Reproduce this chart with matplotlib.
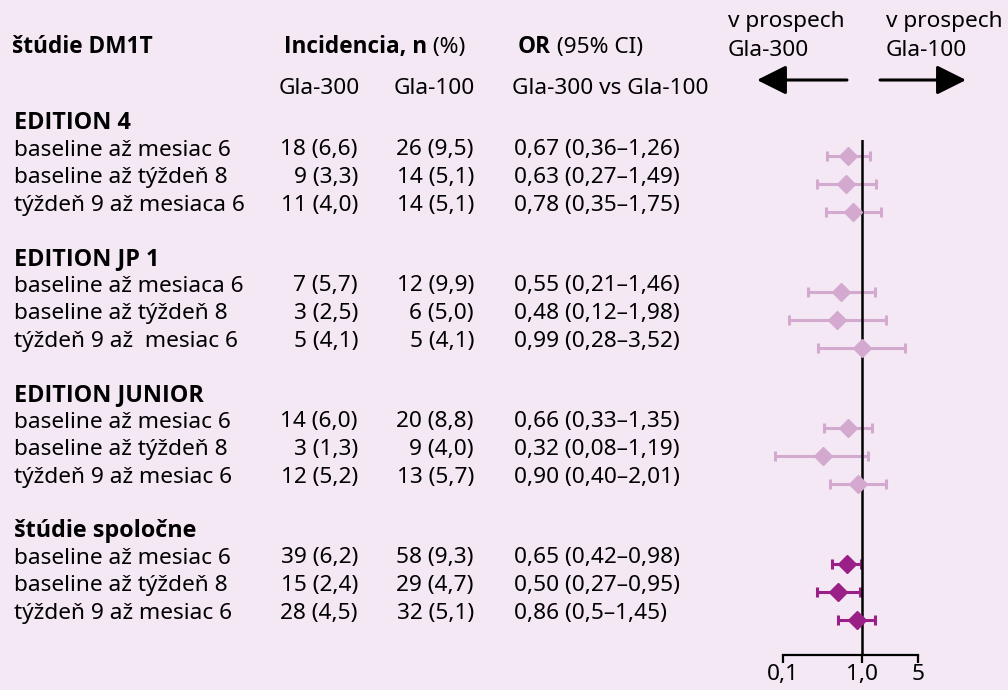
import matplotlib
matplotlib.use("Agg")
import matplotlib.pyplot as plt

plt.rcParams['font.family'] = ['Noto Sans', 'DejaVu Sans']
BOLD = ['Open Sans', 'DejaVu Sans']

# dáta
groups = ["EDITION 4", "EDITION JP 1", "EDITION JUNIOR", "štúdie spoločne"]
row_labels = [
    ["baseline až mesiac 6", "baseline až týždeň 8", "týždeň 9 až mesiaca 6"],
    ["baseline až mesiaca 6", "baseline až týždeň 8", "týždeň 9 až  mesiac 6"],
    ["baseline až mesiac 6", "baseline až týždeň 8", "týždeň 9 až mesiac 6"],
    ["baseline až mesiac 6", "baseline až týždeň 8", "týždeň 9 až mesiac 6"],
]
gla300 = [["18 (6,6)", "9 (3,3)", "11 (4,0)"],
          ["7 (5,7)", "3 (2,5)", "5 (4,1)"],
          ["14 (6,0)", "3 (1,3)", "12 (5,2)"],
          ["39 (6,2)", "15 (2,4)", "28 (4,5)"]]
gla100 = [["26 (9,5)", "14 (5,1)", "14 (5,1)"],
          ["12 (9,9)", "6 (5,0)", "5 (4,1)"],
          ["20 (8,8)", "9 (4,0)", "13 (5,7)"],
          ["58 (9,3)", "29 (4,7)", "32 (5,1)"]]
or_val = [[0.67, 0.63, 0.78], [0.55, 0.48, 0.99], [0.66, 0.32, 0.90], [0.65, 0.50, 0.86]]
ci_low = [[0.36, 0.27, 0.35], [0.21, 0.12, 0.28], [0.33, 0.08, 0.40], [0.42, 0.27, 0.5]]
ci_high = [[1.26, 1.49, 1.75], [1.46, 1.98, 3.52], [1.35, 1.19, 2.01], [0.98, 0.95, 1.45]]
or_text = [["0,67 (0,36–1,26)", "0,63 (0,27–1,49)", "0,78 (0,35–1,75)"],
           ["0,55 (0,21–1,46)", "0,48 (0,12–1,98)", "0,99 (0,28–3,52)"],
           ["0,66 (0,33–1,35)", "0,32 (0,08–1,19)", "0,90 (0,40–2,01)"],
           ["0,65 (0,42–0,98)", "0,50 (0,27–0,95)", "0,86 (0,5–1,45)"]]
xticks = [0.1, 1.0, 5]
xtick_labels = ["0,1", "1,0", "5"]

bg = "#f3e8f4"
light = "#d3a9cf"
dark = "#9a1f87"

W, H = 1008, 690
fig = plt.figure(figsize=(W / 100, H / 100), dpi=100, facecolor=bg)

# textová vrstva v pixelových súradniciach
ax = fig.add_axes([0, 0, 1, 1])
ax.set_xlim(0, W)
ax.set_ylim(H, 0)
ax.axis("off")

fs = 16.3
renderer = fig.canvas.get_renderer()


def bold(x, y, s, size=fs):
    return ax.text(x, y, s, fontsize=size, fontweight="bold", family=BOLD,
                   va="center", ha="left")


def mixed(x, y, b, rest):
    t = bold(x, y, b)
    bb = t.get_window_extent(renderer=renderer)
    x2 = ax.transData.inverted().transform((bb.x1, 0))[0]
    ax.text(x2, y, rest, fontsize=fs, va="center", ha="left")


bold(12, 47, "štúdie DM1T")
mixed(284, 47, "Incidencia, n", " (%)")
mixed(518, 47, "OR", " (95% CI)")
ax.text(279, 89, "Gla-300", fontsize=fs, va="center")
ax.text(394, 89, "Gla-100", fontsize=fs, va="center")
ax.text(512, 89, "Gla-300 vs Gla-100", fontsize=fs, va="center")

ax.text(728, 22, "v prospech", fontsize=fs, va="center")
ax.text(728, 51, "Gla-300", fontsize=fs, va="center")
ax.text(886, 22, "v prospech", fontsize=fs, va="center")
ax.text(886, 51, "Gla-100", fontsize=fs, va="center")
arrow = dict(arrowstyle="-|>,head_length=0.9,head_width=0.45", color="black",
             lw=2.2, mutation_scale=20, shrinkA=0, shrinkB=0)
ax.annotate("", xy=(757, 80), xytext=(847, 80), arrowprops=arrow)
ax.annotate("", xy=(966, 80), xytext=(880, 80), arrowprops=arrow)

head_y0 = 123
group_step = 136
row_step = 27.8
row_y = []
for g, name in enumerate(groups):
    hy = head_y0 + g * group_step
    bold(14, hy, name, size=fs + 0.5)
    ys = []
    for r in range(3):
        y = hy + 27 + r * row_step
        ys.append(y)
        ax.text(14, y, row_labels[g][r], fontsize=fs, va="center")
        ax.text(358, y, gla300[g][r], fontsize=fs, va="center", ha="right")
        ax.text(474, y, gla100[g][r], fontsize=fs, va="center", ha="right")
        ax.text(514, y, or_text[g][r], fontsize=fs, va="center", ha="left")
    row_y.append(ys)

# forest plot
top_px, bot_px, left_px, right_px = 140, 655, 740, 960
fx = fig.add_axes([left_px / W, (H - bot_px) / H, (right_px - left_px) / W, (bot_px - top_px) / H])
fx.set_facecolor("none")
fx.set_xscale("log")
px_per_dec = 79.5
fx.set_xlim(10 ** (-(862 - left_px) / px_per_dec), 10 ** ((right_px - 862) / px_per_dec))
fx.set_ylim(bot_px, top_px)
for s in ["top", "left", "right"]:
    fx.spines[s].set_visible(False)
fx.spines["bottom"].set_bounds(0.1, 5)
fx.spines["bottom"].set_linewidth(1.6)
fx.set_yticks([])
fx.set_xticks(xticks)
fx.set_xticklabels(xtick_labels, fontsize=fs)
fx.xaxis.set_minor_locator(matplotlib.ticker.NullLocator())
fx.tick_params(axis="x", length=6, width=1.6, pad=0.5)

fx.axvline(1.0, color="black", lw=1.8, zorder=2)

offset = 6
for g in range(len(groups)):
    col = dark if g == len(groups) - 1 else light
    for r in range(3):
        y = row_y[g][r] + offset
        o = or_val[g][r]
        fx.errorbar(o, y, xerr=[[o - ci_low[g][r]], [ci_high[g][r] - o]], fmt="none",
                    ecolor=col, elinewidth=2.2, capsize=3.5, capthick=2.2, zorder=1)
        fx.plot(o, y, marker="D", color=col, markersize=9, linestyle="none", zorder=3)

fig.savefig("out.png", dpi=100, facecolor=bg)
